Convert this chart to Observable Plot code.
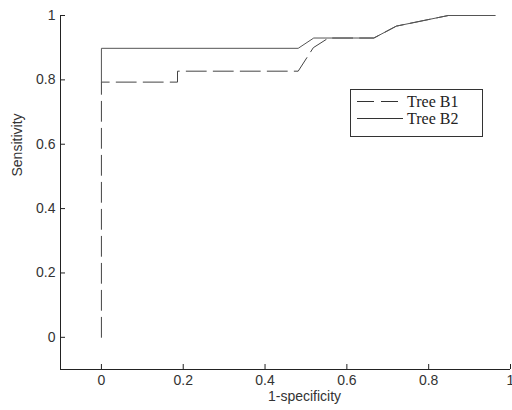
<!DOCTYPE html>
<html>
<head>
<meta charset="utf-8">
<script src="https://cdn.jsdelivr.net/npm/d3@7"></script>
<script src="https://cdn.jsdelivr.net/npm/@observablehq/plot@0.6"></script>
<style>
  html, body { margin: 0; padding: 0; background: #fff; }
  #wrap { position: relative; width: 512px; height: 410px; }
  #legend {
    position: absolute; left: 350px; top: 89px; width: 131px; height: 46px;
    border: 1px solid #333; background: #fff;
    font-family: "Liberation Serif", "Times New Roman", serif; font-size: 16px; line-height: 15px; color: #222;
  }
  .row { position: absolute; left: 0; height: 15px; display: flex; align-items: center; white-space: nowrap; }
  .row svg { margin-left: 6px; margin-right: 4px; display: block; }
</style>
</head>
<body>
<div id="wrap"></div>
<script>
// ---- data ----
const seriesNames = ["Tree B1", "Tree B2"];
const b1X = [0, 0, 0.186, 0.186, 0.481, 0.518, 0.555, 0.666, 0.721, 0.848, 0.962];
const b1Y = [0, 0.793, 0.793, 0.827, 0.827, 0.9, 0.93, 0.93, 0.967, 1, 1];
const b2X = [0, 0, 0.481, 0.519, 0.666, 0.721, 0.848, 0.962];
const b2Y = [0.793, 0.898, 0.898, 0.93, 0.93, 0.967, 1, 1];
const xTicks = [0, 0.2, 0.4, 0.6, 0.8, 1];
const yTicks = [0, 0.2, 0.4, 0.6, 0.8, 1];
const xDomain = [-0.1, 1];
const yDomain = [-0.1, 1];
const xLabel = "1-specificity";
const yLabel = "Sensitivity";

const b1 = b1X.map((x, i) => ({x, y: b1Y[i]}));
const b2 = b2X.map((x, i) => ({x, y: b2Y[i]}));

const W = 512, H = 410, mL = 60, mR = 2, mT = 15, mB = 41;
const fw = W - mL - mR, fh = H - mT - mB;
const fmt = d => String(d);

const chart = Plot.plot({
  width: W, height: H,
  marginLeft: mL, marginRight: mR, marginTop: mT, marginBottom: mB,
  style: {fontFamily: "'Liberation Sans', Arial, sans-serif", fontSize: "14px", color: "#333", background: "#fff"},
  x: {domain: xDomain},
  y: {domain: yDomain},
  marks: [
    Plot.axisX(xTicks, {tickSize: 0, tickPadding: 6, tickFormat: fmt, label: null, fill: "#333"}),
    Plot.axisY(yTicks, {tickSize: 0, tickPadding: 5, tickFormat: fmt, label: null, fill: "#333"}),
    Plot.tickX(xTicks, {x: d => d, insetTop: fh - 5, stroke: "#222"}),
    Plot.tickY(yTicks, {y: d => d, insetRight: fw - 5, stroke: "#222"}),
    Plot.ruleY([yDomain[0]], {stroke: "#222"}),
    Plot.ruleX([xDomain[0]], {stroke: "#222"}),
    Plot.line(b1, {x: "x", y: "y", stroke: "#444", strokeWidth: 1, strokeDasharray: "20,7", curve: "linear"}),
    Plot.line(b2, {x: "x", y: "y", stroke: "#555", strokeWidth: 1, curve: "linear"}),
    Plot.text([xLabel], {text: d => d, frameAnchor: "bottom", dx: 19, dy: 31, fill: "#333", fontSize: 14}),
    Plot.text([yLabel], {text: d => d, frameAnchor: "left", dx: -43, dy: -16, rotate: -90, fill: "#333", fontSize: 14})
  ]
});

const wrap = document.getElementById("wrap");
wrap.appendChild(chart);

const legend = document.createElement("div");
legend.id = "legend";
const dashes = ["20,7", null];
seriesNames.forEach((name, i) => {
  const row = document.createElement("div");
  row.className = "row";
  row.style.top = (4 + i * 16.6) + "px";
  const dash = dashes[i] ? ` stroke-dasharray="17,7"` : "";
  row.innerHTML = `<svg width="46" height="3"><line x1="0" y1="1.5" x2="46" y2="1.5" stroke="#333" stroke-width="1"${dash}/></svg><span>${name}</span>`;
  legend.appendChild(row);
});
wrap.appendChild(legend);
</script>
</body>
</html>
